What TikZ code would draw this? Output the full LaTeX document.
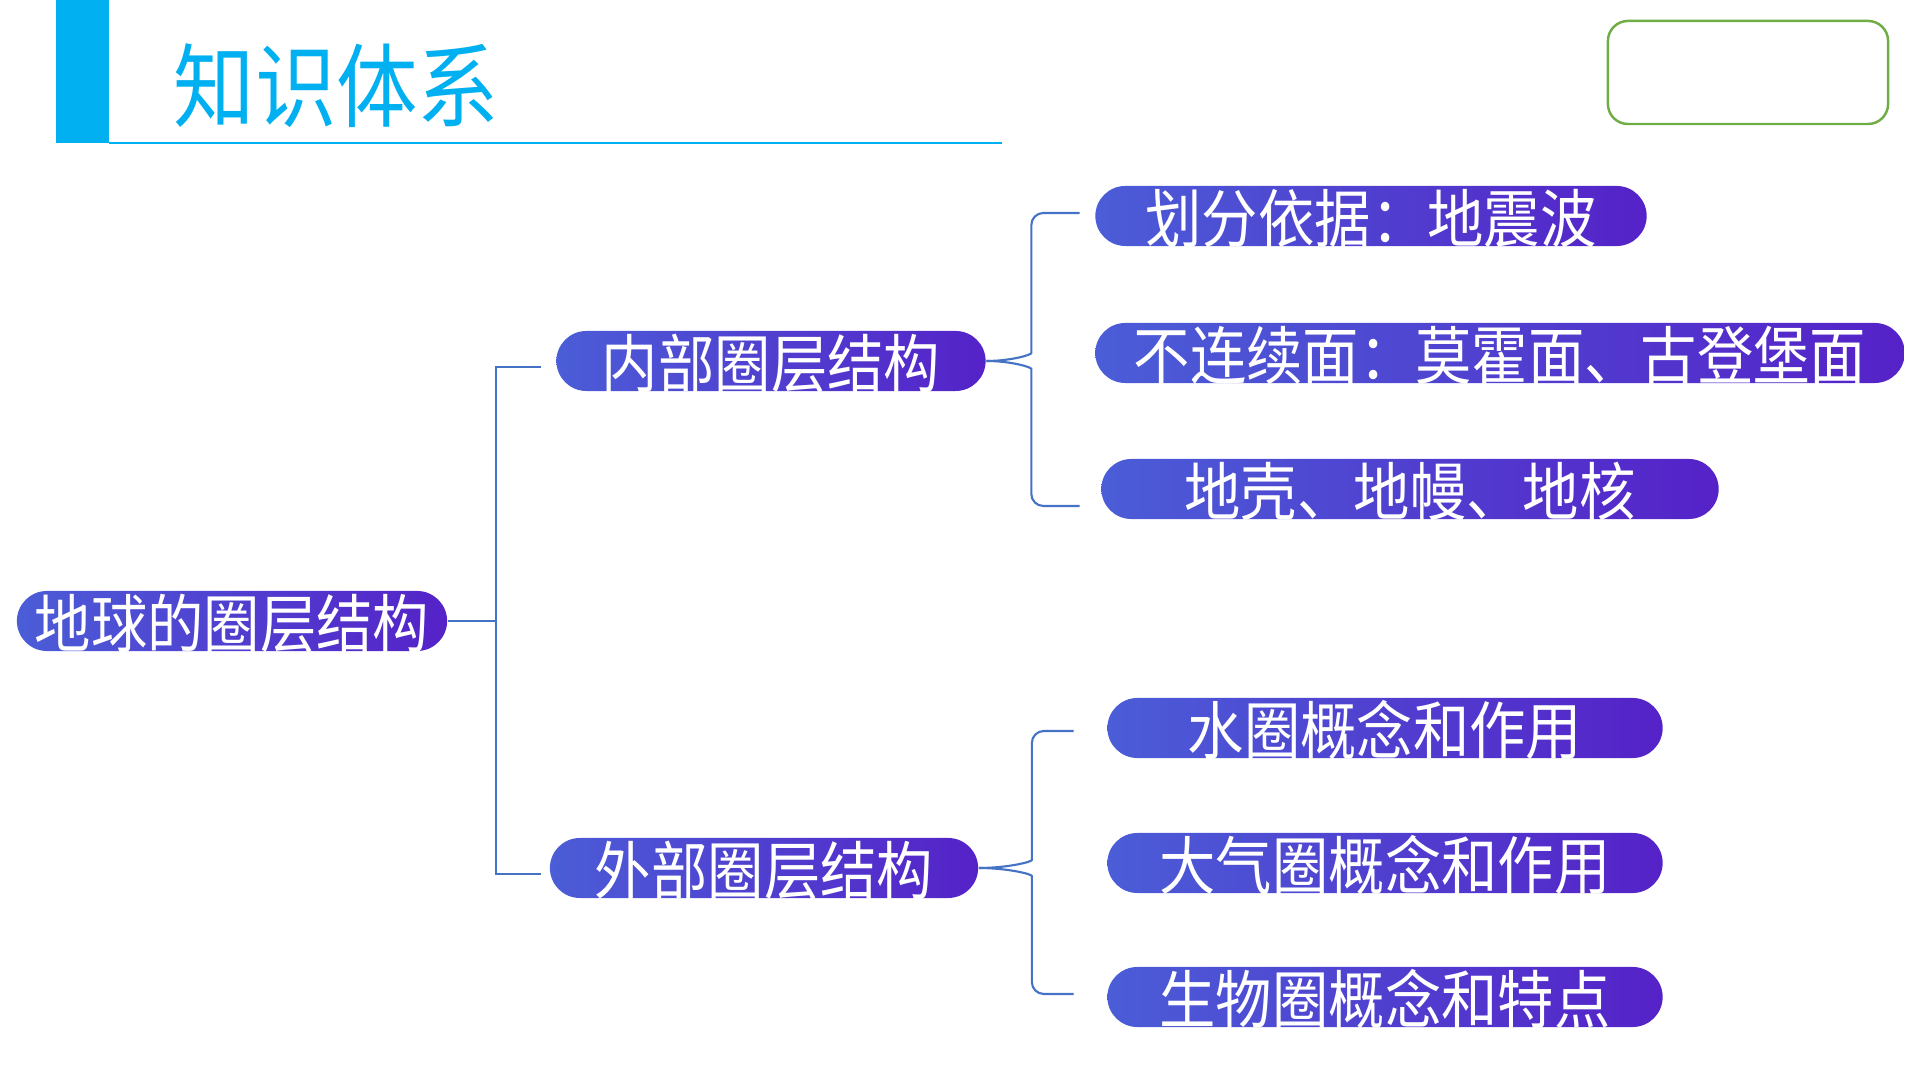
\documentclass[tikz,border=0pt]{standalone}
\usepackage{fontspec}
\newfontfamily\cjk[FakeStretch=0.89]{Noto Sans CJK SC}
\usetikzlibrary{calc}
\definecolor{titlecyan}{HTML}{00B0F0}
\definecolor{boxgreen}{HTML}{70AD47}
\definecolor{pillblue}{HTML}{4B5DD7}
\definecolor{pillpurple}{HTML}{5522C8}
\definecolor{linkblue}{HTML}{4472C4}
\begin{document}
\begin{tikzpicture}[x=0.01cm,y=-0.01cm]
    \tikzstyle{pill}=[rounded corners=0.3cm, left color=pillblue, right color=pillpurple, text=white, minimum height=0.6cm, text height=0.565cm, text depth=0.035cm, inner sep=0pt, font=\cjk\fontsize{18}{18}\selectfont]
    \tikzstyle{link}=[linkblue, line width=0.6pt]
    \useasboundingbox (0,0) rectangle (1920,1080);

    % title bar
    \fill[titlecyan] (56,0) rectangle (109,143);
    \draw[titlecyan, line width=0.5pt] (109,143) -- (1002,143);
    \node[anchor=west, inner sep=0pt, text=titlecyan, font=\cjk\fontsize{26}{26}\selectfont] (title) at (173,86) {知识体系};
    \node[draw=boxgreen, line width=0.7pt, rounded corners=0.2cm, minimum width=2.8cm, minimum height=1.03cm] (tag) at (1748,72.5) {};

    % boxes
    \node[pill, minimum width=4.30cm] (root) at (232,621) {地球的圈层结构};
    \node[pill, minimum width=4.29cm] (inner) at (771,361) {内部圈层结构};
    \node[pill, minimum width=4.28cm] (outer) at (764,868) {外部圈层结构};
    \foreach \n/\x/\y/\w/\t in {d1/1371/216/5.51/划分依据：地震波, d2/1500/353/8.09/不连续面：莫霍面、古登堡面, d3/1410/489/6.17/地壳、地幔、地核,
                                w1/1385/728/5.55/水圈概念和作用, w2/1385/863/5.55/大气圈概念和作用, w3/1385/997/5.55/生物圈概念和特点} {
        \node[pill, minimum width=\w cm] (\n) at (\x,\y) {\t};
    }

    % root to inner/outer
    \coordinate (rb) at ($(root.east)+(48,0)$);
    \draw[link] (root.east) -- (rb);
    \draw[link] ($(inner.west)+(-15,6)$) -| (rb) |- ($(outer.west)+(-8,6)$);

    % braces
    \coordinate (ia) at ($(d1.west)+(-15,-3)$);
    \coordinate (ib) at ($(d3.west)+(-21,17)$);
    \coordinate (oa) at ($(w1.west)+(-33,3)$);
    \coordinate (ob) at ($(w3.west)+(-33,-3)$);
    \coordinate (ic) at ($(inner.east)+(45,0)$);
    \coordinate (oc) at ($(outer.east)+(53,0)$);
    \foreach \e/\s in {ia/-1, ib/1} {
        \draw[link, rounded corners=0.12cm] (\e) -- (ic |- \e) -- ($(ic)+(0,20*\s)$) .. controls +(0,-14*\s) and +(24,0) .. (inner.east);
    }
    \foreach \e/\s in {oa/-1, ob/1} {
        \draw[link, rounded corners=0.12cm] (\e) -- (oc |- \e) -- ($(oc)+(0,20*\s)$) .. controls +(0,-14*\s) and +(28,0) .. (outer.east);
    }
\end{tikzpicture}
\end{document}
